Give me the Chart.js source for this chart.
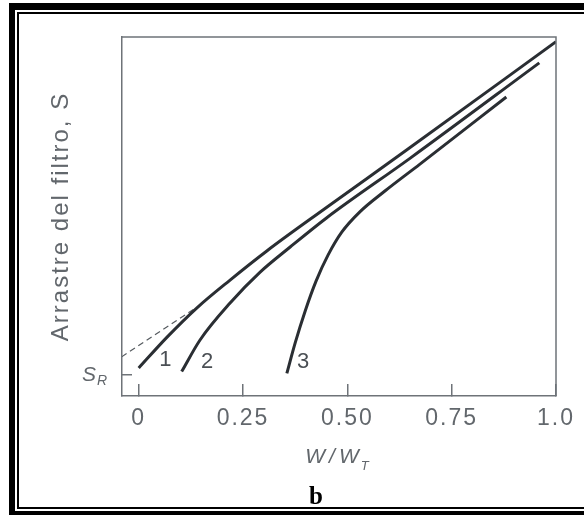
<!DOCTYPE html>
<html>
<head>
<meta charset="utf-8">
<script src="https://cdn.jsdelivr.net/npm/chart.js@4"></script>
<style>
  body { margin: 0; background: #fff; }
  #wrap { width: 584px; height: 515px; position: relative; }
</style>
</head>
<body>
<div id="wrap"><canvas id="myChart"></canvas></div>
<script>
// x axis W/W_T, y axis filter drag S (no numeric scale, only S_R marked)
const xTicks = [0, 0.25, 0.5, 0.75, 1.0];
const xTickLabels = ['0', '0.25', '0.50', '0.75', '1.0'];
const sR = 0.058;

const curve1X = [0.0, 0.068, 0.139, 0.219, 0.307, 0.450, 0.642, 1.0];
const curve1S = [0.078, 0.164, 0.245, 0.323, 0.404, 0.525, 0.685, 0.987];

const curve2X = [0.103, 0.147, 0.219, 0.291, 0.363, 0.450, 0.650, 0.960];
const curve2S = [0.068, 0.156, 0.259, 0.345, 0.415, 0.496, 0.662, 0.928];

const curve3X = [0.355, 0.375, 0.399, 0.425, 0.454, 0.487, 0.530, 0.590, 0.674, 0.881];
const curve3S = [0.063, 0.148, 0.237, 0.320, 0.393, 0.457, 0.513, 0.571, 0.646, 0.833];

// extrapolation of the straight part back to W = 0
const dashX = [-0.041, 0.139];
const dashS = [0.109, 0.247];

const curveLabels = ['1', '2', '3'];
const labelX = [0.064, 0.164, 0.394];
const labelS = [0.100, 0.095, 0.095];

const toPoints = (xs, ys) => xs.map((x, i) => ({x: x, y: ys[i]}));

const lineColor = '#2a2e33';
const textColor = '#62676c';
const boxColor = '#6e7378';

const extras = {
    id: 'extras',
    beforeDraw(chart) {
        // the original lettering is widely tracked
        chart.ctx.letterSpacing = '2px';
    },
    afterDraw(chart) {
        const c = chart.ctx;
        const a = chart.chartArea;
        const xs = chart.scales.x, ys = chart.scales.y;
        c.save();
        // top and right side of the box
        c.strokeStyle = boxColor;
        c.lineWidth = 1.5;
        c.beginPath();
        c.moveTo(a.left, a.top);
        c.lineTo(a.right, a.top);
        c.lineTo(a.right, a.bottom);
        c.stroke();

        // curve numbers
        c.letterSpacing = '0px';
        c.fillStyle = '#4a4f54';
        c.font = '22px Arial';
        c.textAlign = 'center';
        c.textBaseline = 'middle';
        curveLabels.forEach((t, i) => {
            c.fillText(t, xs.getPixelForValue(labelX[i]), ys.getPixelForValue(labelS[i]));
        });

        // S_R label
        const yR = ys.getPixelForValue(sR);
        c.fillStyle = textColor;
        c.textAlign = 'left';
        c.textBaseline = 'alphabetic';
        c.font = 'italic 21px Arial';
        c.fillText('S', 82, yR + 6);
        c.font = 'italic 14px Arial';
        c.fillText('R', 97, yR + 10);

        // x title W/W_T
        c.letterSpacing = '4px';
        c.font = 'italic 21px Arial';
        const w = c.measureText('W/W').width;
        const x0 = 338 - (w + 8) / 2;
        c.fillText('W/W', x0, 463);
        c.letterSpacing = '0px';
        c.font = 'italic 13px Arial';
        c.fillText('T', x0 + w - 2, 470);

        // panel letter
        c.fillStyle = '#000';
        c.font = 'bold 25px "Liberation Serif"';
        c.textAlign = 'center';
        c.fillText('b', 316, 504);

        // frame
        c.fillRect(9, 3, 575, 7);
        c.fillRect(9, 3, 6, 512);
        c.fillRect(17, 12, 567, 2);
        c.fillRect(17, 12, 2, 497);
        c.fillRect(17, 507, 567, 2);
        c.fillRect(9, 511, 575, 4);
        c.restore();
    }
};

const ctx = document.getElementById('myChart').getContext('2d');

const myChart = new Chart(ctx, {
    type: 'line',
    data: {
        datasets: [{
            label: '1',
            data: toPoints(curve1X, curve1S),
            borderColor: lineColor,
            borderWidth: 3,
            pointRadius: 0,
            cubicInterpolationMode: 'monotone'
        }, {
            label: '2',
            data: toPoints(curve2X, curve2S),
            borderColor: lineColor,
            borderWidth: 3,
            pointRadius: 0,
            cubicInterpolationMode: 'monotone'
        }, {
            label: '3',
            data: toPoints(curve3X, curve3S),
            borderColor: lineColor,
            borderWidth: 3,
            pointRadius: 0,
            cubicInterpolationMode: 'monotone'
        }, {
            label: 'extrapolation',
            data: toPoints(dashX, dashS),
            borderColor: '#555a5f',
            borderWidth: 1.2,
            borderDash: [6, 4],
            pointRadius: 0
        }]
    },
    options: {
        responsive: true,
        maintainAspectRatio: false,
        animation: false,
        layout: { padding: { top: 37, right: 28, left: 0, bottom: 0 } },
        plugins: {
            legend: { display: false },
            tooltip: { enabled: false }
        },
        scales: {
            x: {
                type: 'linear',
                min: -0.04,
                max: 1.0,
                afterBuildTicks: (s) => { s.ticks = xTicks.map(v => ({value: v})); },
                afterFit: (s) => { s.height = 119; s.paddingLeft = 0; s.paddingRight = 0; },
                ticks: {
                    callback: (v) => xTickLabels[xTicks.indexOf(v)],
                    color: textColor,
                    font: { family: 'Arial', size: 23 },
                    padding: 21,
                    maxRotation: 0
                },
                grid: { drawOnChartArea: false, tickLength: -12, color: boxColor, lineWidth: 1.5 },
                border: { color: boxColor, width: 1.5 }
            },
            y: {
                type: 'linear',
                min: 0,
                max: 1,
                afterBuildTicks: (s) => { s.ticks = [{value: sR}]; },
                afterFit: (s) => { s.width = 122; },
                ticks: { callback: () => '' },
                grid: { drawOnChartArea: false, tickLength: -10, color: boxColor, lineWidth: 1.5 },
                border: { color: boxColor, width: 1.5 },
                title: {
                    display: true,
                    text: 'Arrastre del filtro, S',
                    color: textColor,
                    font: { family: 'Arial', size: 24 },
                    padding: { top: 47, bottom: 0 }
                }
            }
        }
    },
    plugins: [extras]
});
</script>
</body>
</html>
